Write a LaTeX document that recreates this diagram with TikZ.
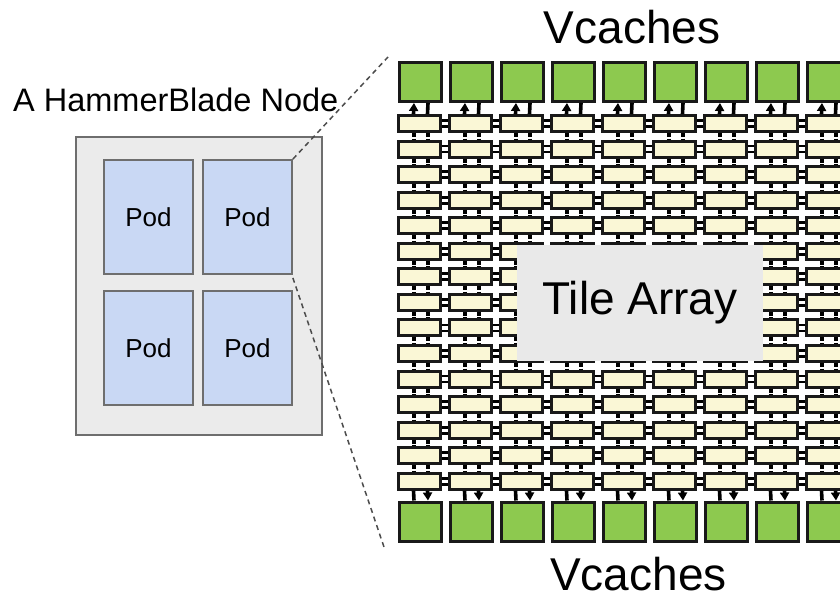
\documentclass[tikz,border=0pt]{standalone}
\usepackage{fontspec}
\setmainfont{Liberation Sans}
\usetikzlibrary{arrows.meta}
\definecolor{podblue}{HTML}{C9D8F4}
\definecolor{nodegray}{HTML}{EBEBEB}
\definecolor{edgegray}{HTML}{6E6E6E}
\definecolor{cachegreen}{HTML}{8DC94F}
\definecolor{tileyellow}{HTML}{FAF7D6}
\definecolor{arraygray}{HTML}{E9E9E9}
\tikzset{
  label/.style={inner sep=0pt, text=black},
  nodebox/.style={draw=edgegray, fill=nodegray, line width=1.8pt},
  podbox/.style={draw=edgegray, fill=podblue, line width=1.8pt, inner sep=0pt,
    minimum width=89pt, minimum height=114pt, font=\fontsize{26}{30}\selectfont},
  cache/.style={draw=black!90, fill=cachegreen, line width=3pt, inner sep=0pt,
    minimum width=42pt, minimum height=39pt},
  tile/.style={draw=black!90, fill=tileyellow, line width=3pt, inner sep=0pt,
    minimum width=42pt, minimum height=16pt},
  vlink/.style={line width=4pt, black, dash pattern=on 4pt off 1.6pt on 20pt},
  hlink/.style={line width=2.8pt, black},
  cachelink/.style={line width=3.6pt, black},
  zoomline/.style={draw=black!70, dash pattern=on 5pt off 4pt, line width=1.5pt},
  tilearray/.style={fill=arraygray, inner sep=0pt, minimum width=246pt,
    minimum height=116pt, font=\fontsize{46}{50}\selectfont}
}
\begin{document}
\begin{tikzpicture}[x=1pt, y=-1pt]
\useasboundingbox (0,0) rectangle (840,599);

% one HammerBlade node with four pods
\node[label, anchor=base west, font=\fontsize{32.5}{36}\selectfont] (title) at (13,112) {A HammerBlade Node};
\node[nodebox, minimum width=246pt, minimum height=298pt, inner sep=0pt] (hb) at (199,286) {};
\node[podbox] (pod11) at (148.5,217) {Pod};
\node[podbox] (pod12) at (247.5,217) {Pod};
\node[podbox] (pod21) at (148.5,348) {Pod};
\node[podbox] (pod22) at (247.5,348) {Pod};

% zoom-in lines from the upper right pod
\coordinate (ztop) at (388,57);
\coordinate (zbot) at (385,550);
\draw[zoomline] (pod12.north east) -- (ztop);
\draw[zoomline] ([yshift=-3pt]pod12.south east) -- (zbot);

% tile array: 15 rows x 9 columns
\foreach \c in {0,...,8} {
  \node[cache] (vt-\c) at ({420+51*\c},82) {};
  \node[cache] (vb-\c) at ({420+51*\c},521.5) {};
  \foreach \r in {0,...,14} {
    \node[tile] (t-\r-\c) at ({419.5+51*\c},{123.5+25.55*\r}) {};
  }
}

% links between vertically adjacent tiles
\foreach \c in {0,...,8} {
  \foreach \r [evaluate=\r as \n using int(\r+1)] in {0,...,13} {
    \draw[vlink] ([xshift=-6pt]t-\r-\c.south) -- ([xshift=-6pt]t-\n-\c.north);
    \draw[vlink] ([xshift=8pt]t-\r-\c.south) -- ([xshift=8pt]t-\n-\c.north);
  }
  % links to the vcaches
  \draw[cachelink, -{Triangle[width=9pt,length=8pt]}] ([xshift=-6pt]t-0-\c.north) -- ([xshift=-6pt]vt-\c.south);
  \draw[cachelink] ([xshift=8pt]t-0-\c.north) -- ([xshift=8pt]vt-\c.south);
  \draw[cachelink] ([xshift=-6pt]t-14-\c.south) -- ([xshift=-6pt]vb-\c.north);
  \draw[cachelink, -{Triangle[width=9pt,length=8pt]}] ([xshift=8pt]t-14-\c.south) -- ([xshift=8pt]vb-\c.north);
}

% links between horizontally adjacent tiles
\foreach \r in {0,...,14} {
  \foreach \c [evaluate=\c as \n using int(\c+1)] in {0,...,7} {
    \draw[hlink] ([yshift=3pt]t-\r-\c.east) -- ([yshift=3pt]t-\r-\n.west);
    \draw[hlink] ([yshift=-3pt]t-\r-\c.east) -- ([yshift=-3pt]t-\r-\n.west);
  }
}

\node[tilearray] (array) at (640,303) {Tile Array};

\node[label, anchor=base, font=\fontsize{46}{50}\selectfont] (vctop) at (632,44) {Vcaches};
\node[label, anchor=base, font=\fontsize{46}{50}\selectfont] (vcbot) at (638.5,590) {Vcaches};
\end{tikzpicture}
\end{document}
